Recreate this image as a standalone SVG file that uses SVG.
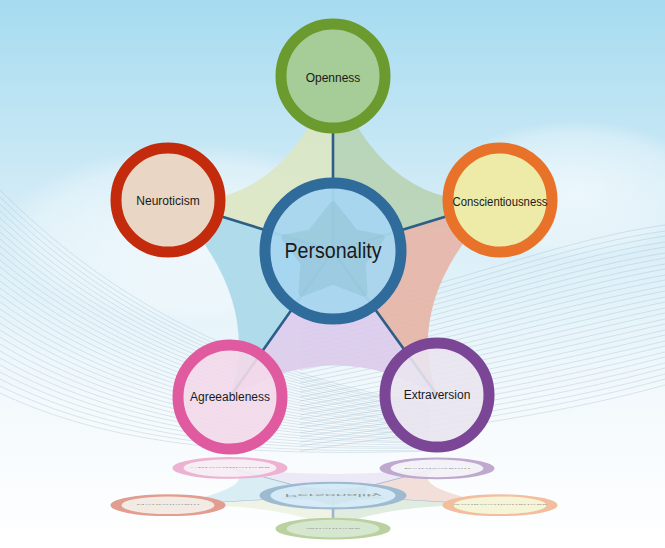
<svg xmlns="http://www.w3.org/2000/svg" xmlns:xlink="http://www.w3.org/1999/xlink" width="665" height="548" viewBox="0 0 665 548">
<defs>
<linearGradient id="bg" x1="0" y1="0" x2="0" y2="1">
<stop offset="0" stop-color="#a6dbf0"/>
<stop offset="0.4" stop-color="#d6edf7"/>
<stop offset="0.72" stop-color="#f3f9fc"/>
<stop offset="1" stop-color="#ffffff"/>
</linearGradient>
<radialGradient id="glow" cx="0.5" cy="0.5" r="0.5">
<stop offset="0" stop-color="#ffffff" stop-opacity="0.6"/>
<stop offset="0.8" stop-color="#ffffff" stop-opacity="0.3"/>
<stop offset="1" stop-color="#ffffff" stop-opacity="0"/>
</radialGradient>
<style>
.lines{fill:none;stroke:#8fb3c6;stroke-width:0.6;opacity:0.5}
.sec{opacity:0.88}
.conn{stroke:#2c5e88;stroke-width:2.6;fill:none}
.ring{stroke-width:11}
.lbl{font-family:"Liberation Sans",Arial,sans-serif;font-size:12px;fill:#1a1a1a;text-anchor:middle}
.big{font-family:"Liberation Sans",Arial,sans-serif;font-size:22px;fill:#1a1a1a;text-anchor:middle}
</style>
</defs>
<rect x="0" y="0" width="665" height="548" fill="url(#bg)"/>
<ellipse cx="200" cy="235" rx="200" ry="90" fill="url(#glow)"/>
<ellipse cx="575" cy="190" rx="130" ry="70" fill="url(#glow)"/>
<path class="lines" d="M0,190C110,300 240,370 430,405M0,197C110,305 240,373 430,407M0,204C110,310 240,376 430,408M0,211C110,315 240,379 430,410M0,218C110,320 240,382 430,411M0,225C110,325 240,385 430,413M0,232C110,330 240,388 430,415M0,239C110,335 240,391 430,416M0,246C110,340 240,394 430,418M0,253C110,345 240,397 430,419M0,260C110,350 240,400 430,421M0,267C110,355 240,403 430,423M0,274C110,360 240,406 430,424M0,281C110,365 240,409 430,426M0,288C110,370 240,412 430,427M0,295C110,375 240,415 430,429M0,302C110,380 240,418 430,431M0,309C110,385 240,421 430,432M0,316C110,390 240,424 430,434M0,323C110,395 240,427 430,435M0,330C110,400 240,430 430,437M0,337C110,405 240,433 430,439M0,344C110,410 240,436 430,440M0,351C110,415 240,439 430,442M0,358C110,420 240,442 430,443M0,365C110,425 240,445 430,445M0,372C110,430 240,448 430,447M0,379C110,435 240,451 430,448M0,386C110,440 240,454 430,450M0,393C110,445 240,457 430,451"/>
<path class="lines" d="M665,225C560,240 470,280 300,320M665,231C560,246 470,285 300,325M665,236C560,252 470,290 300,329M665,242C560,258 470,295 300,334M665,247C560,264 470,300 300,338M665,253C560,270 470,305 300,343M665,258C560,276 470,310 300,347M665,264C560,282 470,315 300,352M665,269C560,288 470,320 300,356M665,275C560,294 470,325 300,361M665,280C560,300 470,330 300,365M665,286C560,306 470,335 300,370M665,291C560,312 470,340 300,374M665,297C560,318 470,345 300,379M665,302C560,324 470,350 300,383M665,308C560,330 470,355 300,388M665,313C560,336 470,360 300,392M665,319C560,342 470,365 300,397M665,324C560,348 470,370 300,401M665,330C560,354 470,375 300,406M665,335C560,360 470,380 300,410M665,341C560,366 470,385 300,415M665,346C560,372 470,390 300,419M665,352C560,378 470,395 300,424M665,357C560,384 470,400 300,428M665,363C560,390 470,405 300,433M665,368C560,396 470,410 300,437M665,374C560,402 470,415 300,442M665,379C560,408 470,420 300,446M665,385C560,414 470,425 300,451"/>
<g id="diagram">
<g id="sectors" class="sec">
<path d="M333,251L168,200Q282,212 333,76Z" fill="#dde7c3"/>
<path d="M333,251L333,76Q384,212 500,200Z" fill="#b8d3b2"/>
<path d="M333,251L500,200Q402,298 437,395Z" fill="#e8b3a4"/>
<path d="M333,251L437,395Q333,335 230,397Z" fill="#dccbec"/>
<path d="M333,251L230,397Q264,298 168,200Z" fill="#a8d8e8"/>
</g>
<g id="connectors" class="conn">
<line x1="333" y1="251" x2="333" y2="76"/>
<line x1="333" y1="251" x2="168" y2="200"/>
<line x1="333" y1="251" x2="500" y2="200"/>
<line x1="333" y1="251" x2="230" y2="397"/>
<line x1="333" y1="251" x2="437" y2="395"/>
</g>
<g id="node-personality">
<circle cx="333" cy="251" r="68" fill="#a6d6f0" fill-opacity="0.95" stroke="#2f6b9b" class="ring"/>
<path d="M333,205L355,233L381,238L362,263L364,293L333,281L302,293L304,263L285,238L311,233Z" fill="#8fbfcf" stroke="#8fbfcf" stroke-width="7" stroke-linejoin="round" opacity="0.45"/>
<text class="big" x="333" y="258" textLength="97" lengthAdjust="spacingAndGlyphs">Personality</text>
</g>
<g id="node-openness">
<circle cx="333" cy="76" r="52" fill="#a6cc98" stroke="#6b9a2e" class="ring"/>
<text class="lbl" x="333" y="82">Openness</text>
</g>
<g id="node-neuroticism">
<circle cx="168" cy="200" r="52" fill="#e9d6c4" stroke="#c42a0c" class="ring"/>
<text class="lbl" x="168" y="205">Neuroticism</text>
</g>
<g id="node-conscientiousness">
<circle cx="500" cy="200" r="52" fill="#eeeba8" stroke="#e8722a" class="ring"/>
<text class="lbl" x="500" y="206" textLength="95" lengthAdjust="spacingAndGlyphs">Conscientiousness</text>
</g>
<g id="node-agreeableness">
<circle cx="230" cy="397" r="52" fill="#f3d9ea" fill-opacity="0.9" stroke="#e05aa0" class="ring"/>
<text class="lbl" x="230" y="401">Agreeableness</text>
</g>
<g id="node-extraversion">
<circle cx="437" cy="395" r="52" fill="#e9e4f0" fill-opacity="0.9" stroke="#7b4696" class="ring"/>
<text class="lbl" x="437" y="399">Extraversion</text>
</g>
</g>
<use id="reflection" xlink:href="#diagram" href="#diagram" transform="matrix(1 0 0 -0.189 0 543)" opacity="0.45"/>
</svg>
